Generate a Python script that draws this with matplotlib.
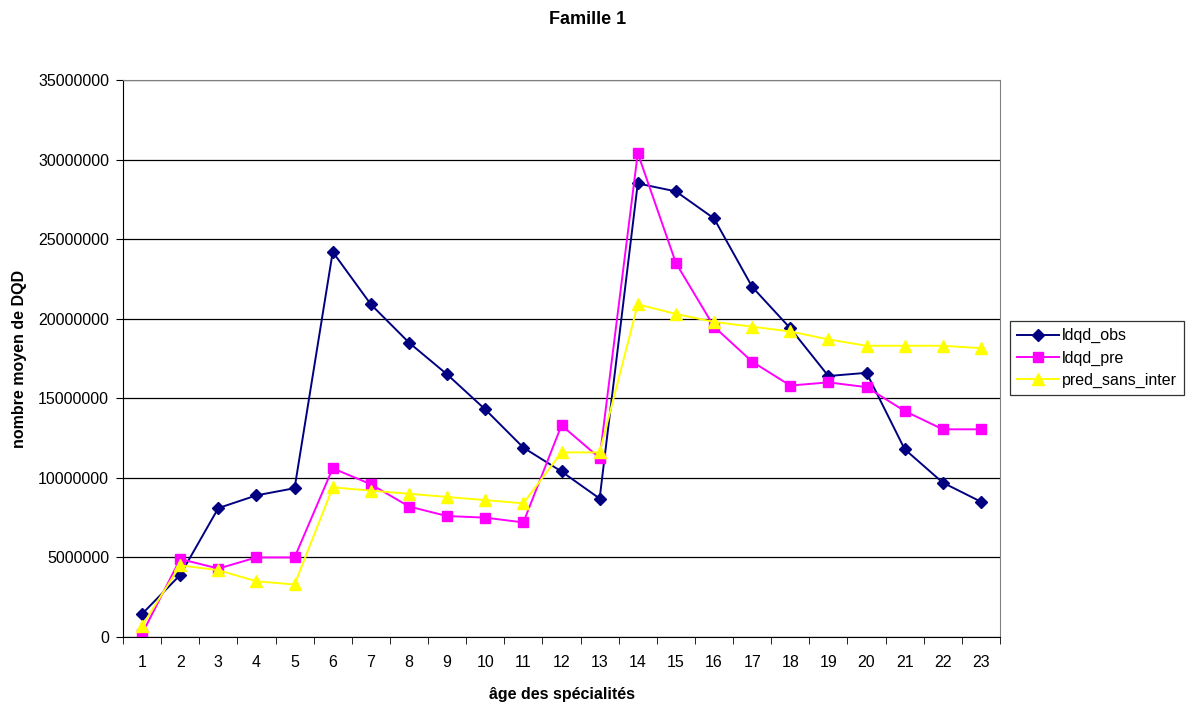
import numpy as np
import matplotlib
matplotlib.use('Agg')
import matplotlib.pyplot as plt

plt.rcParams['font.family'] = ['Liberation Sans', 'DejaVu Sans']

# ----- DATA -----
ages = list(range(1, 24))
ldqd_obs = [1.45e6, 3.9e6, 8.1e6, 8.9e6, 9.35e6, 24.2e6, 20.9e6, 18.5e6, 16.5e6, 14.3e6,
            11.9e6, 10.4e6, 8.7e6, 28.5e6, 28.0e6, 26.3e6, 22.0e6, 19.4e6, 16.4e6, 16.6e6,
            11.8e6, 9.7e6, 8.5e6]
ldqd_pre = [0.2e6, 4.9e6, 4.3e6, 5.0e6, 5.0e6, 10.6e6, 9.6e6, 8.2e6, 7.6e6, 7.5e6,
            7.2e6, 13.3e6, 11.25e6, 30.4e6, 23.5e6, 19.5e6, 17.3e6, 15.8e6, 16.0e6, 15.7e6,
            14.2e6, 13.05e6, 13.05e6]
pred_sans_inter = [0.7e6, 4.5e6, 4.2e6, 3.5e6, 3.3e6, 9.4e6, 9.2e6, 9.0e6, 8.8e6, 8.6e6,
                   8.4e6, 11.6e6, 11.6e6, 20.9e6, 20.3e6, 19.8e6, 19.5e6, 19.2e6, 18.7e6, 18.3e6,
                   18.3e6, 18.3e6, 18.15e6]
yticks = np.arange(0, 35000001, 5000000)

# ----- PLOT -----
fig = plt.figure(figsize=(11.87, 7.09), dpi=100)
ax = fig.add_axes([123/1187, 1 - 637/709, (1000-123)/1187, (637-80)/709])

ax.plot(ages, ldqd_obs, color='#000080', marker='D', markersize=6, lw=1.4, label='ldqd_obs')
ax.plot(ages, ldqd_pre, color='#FF00FF', marker='s', markersize=7.5, lw=1.4, label='ldqd_pre')
ax.plot(ages, pred_sans_inter, color='#FFFF00', marker='^', markersize=8, lw=1.4, label='pred_sans_inter')

ax.set_xlim(0.5, 23.5)
ax.set_ylim(0, 35000000)
ax.set_yticks(yticks)
ax.set_yticklabels([str(v) for v in yticks])
ax.set_xticks(ages)
ax.set_xticks(np.arange(0.5, 24, 1), minor=True)
ax.tick_params(axis='x', which='major', length=0, pad=13, labelsize=11.5)
ax.tick_params(axis='x', which='minor', length=5, direction='out')
ax.tick_params(axis='y', length=5, direction='out', labelsize=11.5, pad=5)

ax.yaxis.grid(True, color='#000000', lw=0.9)
ax.set_axisbelow(True)
for side in ['top', 'right']:
    ax.spines[side].set_color('#808080')
for side in ['left', 'bottom']:
    ax.spines[side].set_color('#000000')

fig.suptitle('Famille 1', x=0.495, y=1 - 20/709, fontsize=13, fontweight='bold', va='center')
ax.set_xlabel('âge des spécialités', fontsize=11.5, fontweight='bold', labelpad=12)
ax.set_ylabel('nombre moyen de DQD', fontsize=11.5, fontweight='bold', labelpad=8)

leg = ax.legend(loc='center left', bbox_to_anchor=(1010/1187, 1 - 358/709),
                bbox_transform=fig.transFigure, frameon=True, fancybox=False,
                edgecolor='#000000', fontsize=11.5, borderpad=0.45, labelspacing=0.45,
                handlelength=2.6, handletextpad=0.2, borderaxespad=0)
leg.get_frame().set_linewidth(0.9)

fig.savefig('out.png', dpi=100)
